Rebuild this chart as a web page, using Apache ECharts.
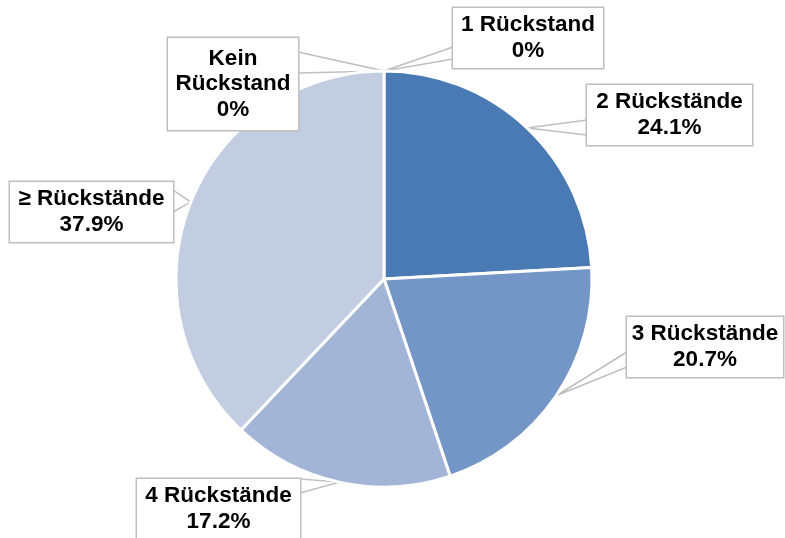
<!DOCTYPE html>
<html>
<head>
<meta charset="utf-8">
<script src="https://cdn.jsdelivr.net/npm/echarts@6/dist/echarts.min.js"></script>
<style>
html,body{margin:0;padding:0;background:#fff;}
#chart{width:785px;height:538px;}
</style>
</head>
<body>
<div id="chart"></div>
<script>
// ---- data ----
const categories = ['Kein\nRückstand', '1 Rückstand', '2 Rückstände', '3 Rückstände', '4 Rückstände', '≥ Rückstände'];
const percentValues = [0, 0, 24.1, 20.7, 17.2, 37.9];
const sliceColors = ['#c2cde2', '#4a7ab4', '#4a7ab4', '#7396c6', '#a2b5d6', '#c2cde2'];

// ---- label box layout (center x, center y, width, height) and callout attachment ----
const labelBoxes = [
  [233, 84, 130, 92],
  [528, 38, 150, 60],
  [669.5, 115, 165, 60],
  [705, 347, 156, 60],
  [218.5, 509, 163, 60],
  [91.5, 212, 163, 60]
];
// side of the box the callout wedge attaches to, and its two offsets from the box top
const calloutSides = [
  ['right', 14, 35],
  ['left', 39, 51],
  ['left', 35, 50],
  ['left', 35, 50],
  ['right', 0, 14],
  ['right', 8, 30]
];

const LINE_H = 25.5;
const PAD_H = 3;

const chart = echarts.init(document.getElementById('chart'), null, {renderer: 'canvas'});

const data = categories.map((name, i) => {
  const b = labelBoxes[i];
  const nLines = name.split('\n').length + 1;
  const padV = (b[3] - nLines * LINE_H) / 2;
  return {
    name: name,
    value: percentValues[i],
    itemStyle: {color: sliceColors[i]},
    label: {
      width: b[2] - 2 * PAD_H,
      padding: [padV, PAD_H, padV, PAD_H]
    }
  };
});

chart.setOption({
  backgroundColor: '#ffffff',
  animation: false,
  series: [{
    type: 'pie',
    center: [384, 279],
    radius: 208,
    startAngle: 90,
    clockwise: true,
    minShowLabelAngle: 0,
    avoidLabelOverlap: false,
    itemStyle: {borderColor: '#ffffff', borderWidth: 3},
    emphasis: {disabled: true},
    label: {
      show: true,
      position: 'outside',
      formatter: function (p) { return p.name + '\n' + p.value + '%'; },
      fontFamily: 'Liberation Sans, Arial, sans-serif',
      fontWeight: 'bold',
      fontSize: 22.5,
      lineHeight: LINE_H,
      overflow: 'none',
      color: '#000000',
      align: 'center',
      backgroundColor: '#ffffff',
      borderColor: '#bfbfbf',
      borderWidth: 1.5
    },
    labelLine: {
      show: true,
      length: 20,
      length2: 20,
      lineStyle: {color: '#bfbfbf', width: 1.5}
    },
    labelLayout: function (params) {
      const i = params.dataIndex;
      const b = labelBoxes[i];
      const c = calloutSides[i];
      const x0 = b[0] - b[2] / 2, x1 = b[0] + b[2] / 2, y0 = b[1] - b[3] / 2;
      const sx = c[0] === 'left' ? x0 : x1;
      const tip = params.labelLinePoints ? params.labelLinePoints[0] : [384, 71];
      return {
        x: b[0],
        y: b[1],
        align: 'center',
        verticalAlign: 'middle',
        labelLinePoints: [[sx, y0 + c[1]], [tip[0], tip[1]], [sx, y0 + c[2]]]
      };
    },
    data: data
  }]
});
</script>
</body>
</html>
